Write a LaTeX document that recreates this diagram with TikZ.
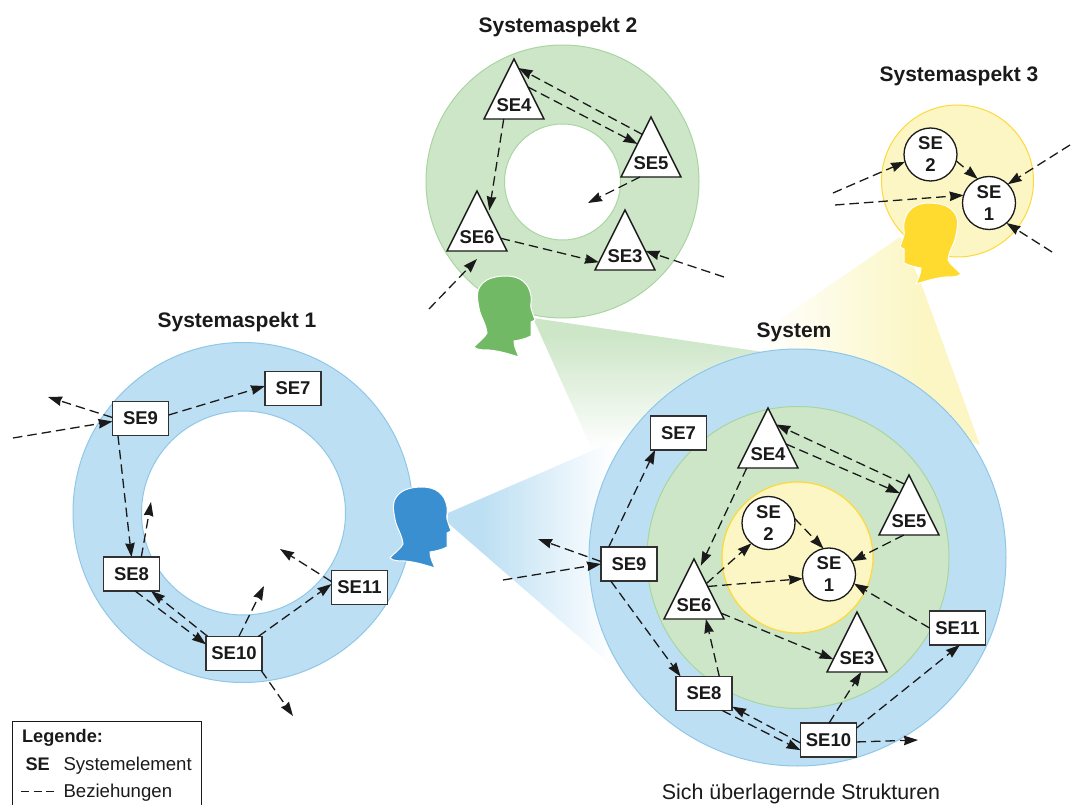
\documentclass[tikz,border=0pt]{standalone}
\usepackage{fontspec}
\setmainfont{Liberation Sans}
\usetikzlibrary{arrows.meta,shapes.geometric}

\definecolor{bluefill}{HTML}{BDDFF3}
\definecolor{blueline}{HTML}{8FC7E8}
\definecolor{greenfill}{HTML}{CDE6C8}
\definecolor{greenline}{HTML}{A8D5A0}
\definecolor{yellowfill}{HTML}{FBF6C3}
\definecolor{yellowline}{HTML}{FFD83A}
\definecolor{bluehead}{HTML}{3A8FD0}
\definecolor{greenhead}{HTML}{71B964}
\definecolor{yellowhead}{HTML}{FFDA2F}
\definecolor{inkline}{HTML}{1A1A1A}

\pgfdeclarehorizontalshading{beamblue}{100bp}{color(0bp)=(bluefill); color(34bp)=(bluefill); color(68bp)=(white); color(100bp)=(white)}
\pgfdeclarehorizontalshading{beamyellow}{100bp}{color(0bp)=(white); color(30bp)=(white); color(63bp)=(yellowfill); color(100bp)=(yellowfill)}
\pgfdeclareverticalshading{beamgreen}{100bp}{color(0bp)=(white); color(32bp)=(white); color(69bp)=(greenfill); color(100bp)=(greenfill)}

\newcommand{\trilabel}[1]{\raisebox{-0.5pt}[0pt][0pt]{#1}}

\tikzset{
  setext/.style={font=\fontsize{18.5}{22}\selectfont\bfseries, text=inkline},
  sebox/.style={setext, draw=inkline!90, line width=1.4pt, fill=white, minimum width=56pt, minimum height=34pt, inner sep=0pt, outer sep=0pt},
  setri/.style={setext, draw=inkline, line width=1.4pt, fill=white, isosceles triangle, isosceles triangle apex angle=53.13, shape border rotate=90, minimum height=60pt, minimum width=60pt, inner sep=0pt, outer sep=0pt, anchor=apex},
  secirc/.style={setext, draw=inkline, line width=1.3pt, fill=white, circle, minimum size=53pt, inner sep=0pt, outer sep=0pt, align=center},
  rel/.style={draw=inkline, line width=1.3pt, dash pattern=on 9.5pt off 5pt, -{Stealth[length=14pt,width=9.5pt,inset=1pt]}},
  heading/.style={font=\fontsize{21}{24}\selectfont\bfseries, text=inkline},
  legtext/.style={font=\fontsize{18.6}{22}\selectfont, text=inkline, anchor=west},
  headshape/.pic={
    \path[pic actions] (33,0) .. controls (47,0) and (56,7) .. (58,20) .. controls (59,26) and (57,29) .. (58,32) .. controls (59,36) and (61,41) .. (62,44) -- (58,46) -- (58,60) .. controls (52,63) and (47,64) .. (41,65) .. controls (41,71) and (44,76) .. (46,81) .. controls (36,78) and (27,75) .. (16,74) .. controls (10,74) and (4,74) .. (1,71) .. controls (4,67) and (12,62) .. (14,57) .. controls (13,47) and (7,40) .. (6,32) .. controls (4,22) and (3,14) .. (9,8) .. controls (14,2) and (24,0) .. (33,0) -- cycle;
  }
}

\begin{document}
\begin{tikzpicture}[x=1pt,y=-1pt]
\useasboundingbox (0,0) rectangle (1072,805);

\shade[shading=beamyellow] (900,237) -- (735,350) -- (980,445) -- (921,283) -- cycle;
\shade[shading=beamgreen] (533,318) -- (770,353) -- (700,420) -- (602,472) -- cycle;
\shade[shading=beamblue] (448,513) -- (640,430) -- (640,690) -- (448,523) -- cycle;

\draw[draw=blueline, fill=bluefill, line width=1pt] (243,512.5) circle (170);
\draw[draw=blueline, fill=white, line width=1pt] (243.5,513) circle (102);
\draw[draw=greenline, fill=greenfill, line width=1pt] (562.5,181.5) circle (136.5);
\draw[draw=greenline, fill=white, line width=1pt] (562.5,182) circle (58);
\draw[draw=yellowline, fill=yellowfill, line width=1pt] (957.5,181) circle (76);

\draw[draw=blueline, fill=bluefill, line width=1pt] (797.5,557.5) circle (208.5);
\draw[draw=greenline, fill=greenfill, line width=1pt] (798,557.5) circle (151);
\draw[draw=yellowline, fill=yellowfill, line width=1.2pt] (797.5,557.5) circle (75.5);

\pic[fill=bluehead, draw=white, line width=1pt] (headone) at (389,487) {headshape};
\pic[fill=greenhead, draw=white, line width=1pt] (headtwo) at (473,276) {headshape};
\pic[fill=yellowhead, draw=white, line width=1pt, xscale=-1] (headthree) at (962,203) {headshape};

\node[heading] (titleone) at (237,322) {Systemaspekt 1};
\node[heading] (titletwo) at (558,27) {Systemaspekt 2};
\node[heading] (titlethree) at (959,76) {Systemaspekt 3};
\node[heading] (titlesys) at (794,332) {System};
\node[font=\fontsize{21.4}{25}\selectfont, text=inkline] (titleover) at (801,794) {Sich überlagernde Strukturen};

\node[sebox] (oneseven) at (293,388.5) {SE7};
\node[sebox] (onenine) at (140.5,418.5) {SE9};
\node[sebox] (oneeight) at (131.5,574) {SE8};
\node[sebox] (oneten) at (234,653.5) {SE10};
\node[sebox] (oneeleven) at (359.5,587.5) {SE11};

\coordinate (onefreea) at (13,438);
\coordinate (onefreeb) at (48,397);
\coordinate (onefreec) at (151,502);
\coordinate (onefreed) at (264,586);
\coordinate (onefreee) at (280,549);
\coordinate (onefreef) at (293,716);

\draw[rel] (onenine.7) -- (oneseven.175);
\draw[rel] (onefreea) -- (onenine.186);
\draw[rel] (onenine.178) -- (onefreeb);
\draw[rel] (onenine.217) -- (oneeight.90);
\draw[rel] (oneeight.60) -- (onefreec);
\draw[rel] (oneeight.-78) -- (oneten.162);
\draw[rel] (oneten.147) -- (oneeight.-41);
\draw[rel] (oneten.74) -- (onefreed);
\draw[rel] (oneten.35) -- (oneeleven.173);
\draw[rel] (oneeleven.168) -- (onefreee);
\draw[rel] (oneten.-32) -- (onefreef);

\node[setri] (twofour) at (514,59) {\trilabel{SE4}};
\node[setri] (twofive) at (651,117) {\trilabel{SE5}};
\node[setri] (twosix) at (477,191) {\trilabel{SE6}};
\node[setri] (twothree) at (625,210) {\trilabel{SE3}};

\coordinate (twofreea) at (588,203);
\coordinate (twofreeb) at (724,277);
\coordinate (twofreec) at (429,309);
\coordinate (twofreed) at (477,259);

\draw[rel] (twofive.104) -- (twofour.84);
\draw[rel] (twofour.60) -- (twofive.118);
\draw[rel, shorten >=4pt] (twofour.217) -- (twosix.68);
\draw[rel] (twofive.215) -- (twofreea);
\draw[rel] (twosix.12) -- (twothree.180);
\draw[rel] (twofreeb) -- (twothree.29);
\draw[rel] (twofreec) -- (twofreed);

\node[secirc] (threetwo) at (930.5,154.5) {SE\\2};
\node[secirc] (threeone) at (989,203) {SE\\1};

\coordinate (threefreea) at (833,193);
\coordinate (threefreeb) at (835,205);
\coordinate (threefreec) at (1070,145);
\coordinate (threefreed) at (1052,252);

\draw[rel] (threefreea) -- (threetwo.196);
\draw[rel] (threefreeb) -- (threeone.163);
\draw[rel] (threetwo.-14) -- (threeone.115);
\draw[rel] (threefreec) -- (threeone.45);
\draw[rel] (threefreed) -- (threeone.-49);

\node[sebox] (sysseven) at (678.5,433) {SE7};
\node[sebox] (sysnine) at (629,564) {SE9};
\node[sebox] (syseight) at (704,693.5) {SE8};
\node[sebox] (systen) at (828.5,740) {SE10};
\node[sebox] (syseleven) at (957.5,628) {SE11};
\node[setri] (sysfour) at (768,408) {\trilabel{SE4}};
\node[setri] (sysfive) at (909,475) {\trilabel{SE5}};
\node[setri] (syssix) at (694,559) {\trilabel{SE6}};
\node[setri] (systhree) at (857,612) {\trilabel{SE3}};
\node[secirc] (systwo) at (768.5,523) {SE\\2};
\node[secirc] (sysone) at (829,574.5) {SE\\1};

\coordinate (sysfreea) at (503,580);
\coordinate (sysfreeb) at (538,539);
\coordinate (sysfreec) at (918,740);

\draw[rel] (sysnine.140) -- (sysseven.216);
\draw[rel] (sysfreea) -- (sysnine.180);
\draw[rel] (sysnine.175) -- (sysfreeb);
\draw[rel] (sysnine.223) -- (syseight.144);
\draw[rel] (syseight.48) -- (syssix.-33);
\draw[rel] (systen.186) -- (syseight.-25);
\draw[rel] (syseight.-43) -- (systen.200);
\draw[rel] (systen.88) -- (systhree.-61);
\draw[rel] (systen.23) -- (syseleven.-82);
\draw[rel] (systen.-4) -- (sysfreec);
\draw[rel] (syseleven.180) -- (sysone.-20);
\draw[rel] (sysfive.236) -- (sysone.30);
\draw[rel] (sysfive.96) -- (sysfour.77);
\draw[rel] (sysfour.42) -- (sysfive.105);
\draw[rel, shorten >=4pt] (sysfour.200) -- (syssix.83);
\draw[rel] (syssix.66) -- (systwo.230);
\draw[rel] (syssix.61) -- (sysone.189);
\draw[rel] (syssix.-4) -- (systhree.168);
\draw[rel] (systwo.10) -- (sysone.102);

\draw[draw=inkline, line width=1pt] (12,805) |- (201,721) -- (201,805);
\node[legtext, font=\fontsize{18.2}{22}\selectfont\bfseries] (legtitle) at (18.5,738) {Legende:};
\node[legtext, font=\fontsize{18.2}{22}\selectfont\bfseries] (legse) at (22,764) {SE};
\node[legtext] (legelem) at (60,766) {Systemelement};
\node[legtext] (legrel) at (60,793) {Beziehungen};
\coordinate (legdasha) at (21,791);
\coordinate (legdashb) at (54,791);
\draw[draw=inkline, line width=1pt, dash pattern=on 8pt off 4.5pt] (legdasha) -- (legdashb);
\end{tikzpicture}
\end{document}
